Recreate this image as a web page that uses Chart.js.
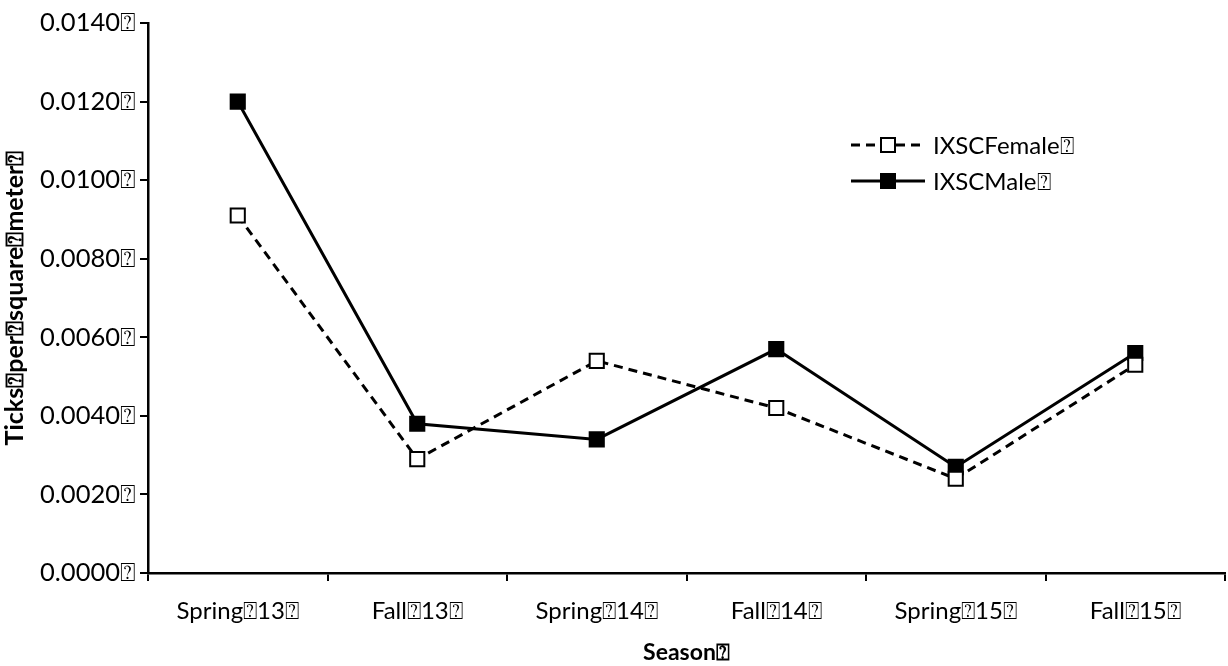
<!DOCTYPE html>
<html>
<head>
<meta charset="utf-8">
<script src="https://cdn.jsdelivr.net/npm/chart.js@4/dist/chart.umd.min.js"></script>
<style>
  html, body { margin: 0; padding: 0; background: #fff; }
  #wrap { width: 1228px; height: 666px; position: relative; }
</style>
</head>
<body>
<div id="wrap"><canvas id="c" width="1228" height="666"></canvas></div>
<script>
const categories = ["Spring\u237013\u2370", "Fall\u237013\u2370", "Spring\u237014\u2370", "Fall\u237014\u2370", "Spring\u237015\u2370", "Fall\u237015\u2370"];
const femaleValues = [0.0091, 0.0029, 0.0054, 0.0042, 0.0024, 0.0053];
const maleValues = [0.0120, 0.0038, 0.0034, 0.0057, 0.0027, 0.0056];
const seriesNames = ["IXSCFemale\u2370", "IXSCMale\u2370"];
const yTitle = "Ticks\u2370per\u2370square\u2370meter\u2370";
const xTitle = "Season\u2370";
const yMin = 0, yMax = 0.014, yStep = 0.002;

const FONT = "Lato, 'DejaVu Sans', sans-serif";

const legendPlugin = {
  id: 'customLegend',
  afterDraw(chart) {
    const ctx = chart.ctx;
    const items = chart.data.datasets;
    const x0 = 851, x1 = 925, textX = 933;
    const ys = [145, 181];
    items.forEach((ds, i) => {
      const y = ys[i];
      ctx.save();
      ctx.strokeStyle = '#000';
      ctx.lineWidth = 3;
      ctx.setLineDash(ds.borderDash || []);
      ctx.beginPath();
      ctx.moveTo(x0, y);
      ctx.lineTo(x1, y);
      ctx.stroke();
      ctx.setLineDash([]);
      const cx = (x0 + x1) / 2, s = 14;
      ctx.fillStyle = ds.pointBackgroundColor;
      ctx.fillRect(cx - s / 2, y - s / 2, s, s);
      ctx.lineWidth = 2;
      ctx.strokeRect(cx - s / 2, y - s / 2, s, s);
      ctx.fillStyle = '#000';
      ctx.font = "24px " + FONT;
      ctx.textBaseline = 'middle';
      ctx.textAlign = 'left';
      ctx.fillText(ds.label, textX, y + 1);
      ctx.restore();
    });
  }
};

new Chart(document.getElementById('c'), {
  type: 'line',
  data: {
    labels: categories,
    datasets: [
      {
        label: seriesNames[0],
        data: femaleValues,
        borderColor: '#000',
        borderWidth: 3,
        borderDash: [9, 6],
        pointStyle: 'rect',
        pointRadius: 10,
        pointBorderWidth: 2,
        pointBorderColor: '#000',
        pointBackgroundColor: '#fff',
        tension: 0,
        fill: false
      },
      {
        label: seriesNames[1],
        data: maleValues,
        borderColor: '#000',
        borderWidth: 3,
        pointStyle: 'rect',
        pointRadius: 10,
        pointBorderWidth: 2,
        pointBorderColor: '#000',
        pointBackgroundColor: '#000',
        tension: 0,
        fill: false
      }
    ]
  },
  options: {
    responsive: false,
    animation: false,
    devicePixelRatio: 1,
    layout: { autoPadding: false, padding: { top: 23, right: 3, left: 0, bottom: 0 } },
    plugins: {
      legend: { display: false },
      tooltip: { enabled: false }
    },
    scales: {
      x: {
        offset: true,
        grid: {
          offset: true,
          drawOnChartArea: false,
          drawTicks: true,
          tickLength: 8,
          color: '#000',
          lineWidth: 2
        },
        border: { display: true, color: '#000', width: 2.5 },
        ticks: {
          color: '#000',
          font: { family: FONT, size: 24 },
          padding: 16,
          maxRotation: 0,
          autoSkip: false
        },
        title: {
          display: true,
          text: xTitle,
          color: '#000',
          font: { family: FONT, size: 23, weight: 'bold' },
          padding: { top: 5, bottom: 0 }
        },
        afterFit(scale) { scale.height = 93; scale.paddingLeft = 0; scale.paddingRight = 0; }
      },
      y: {
        min: yMin,
        max: yMax,
        grid: {
          drawOnChartArea: false,
          drawTicks: true,
          tickLength: 8,
          color: '#000',
          lineWidth: 2
        },
        border: { display: true, color: '#000', width: 2.5 },
        ticks: {
          stepSize: yStep,
          color: '#000',
          font: { family: FONT, size: 25.5 },
          padding: 4,
          callback: (v) => Number(v).toFixed(4) + "\u2370"
        },
        title: {
          display: true,
          text: yTitle,
          color: '#000',
          font: { family: FONT, size: 25, weight: 'bold' },
          padding: { top: 0, bottom: 0 }
        },
        afterFit(scale) { scale.width = 148; scale.paddingTop = 0; scale.paddingBottom = 0; }
      }
    }
  },
  plugins: [legendPlugin]
});
</script>
</body>
</html>
